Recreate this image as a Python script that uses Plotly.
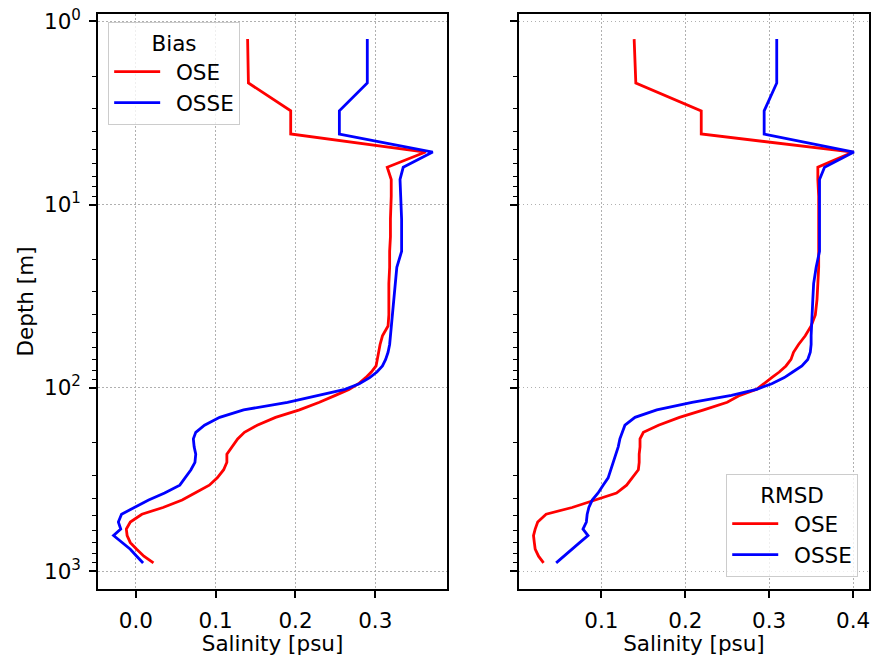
import plotly.graph_objects as go

# Model depth levels [m]
depth = [1.25, 2.17, 3.08, 4.12, 5.17, 6.26, 7.3, 9, 12, 15, 18, 22, 27, 33, 40,
         46, 52, 58, 64, 70, 76, 82, 88, 95, 102, 110, 120, 132, 145, 160, 175,
         190, 210, 230, 255, 280, 310, 340, 375, 410, 450, 490, 540, 590, 640,
         700, 760, 830, 903]

# Salinity bias profiles [psu]
bias_ose = [0.140, 0.141, 0.194, 0.194, 0.363, 0.315, 0.320, 0.320, 0.319, 0.319,
            0.318, 0.318, 0.317, 0.317, 0.317, 0.316, 0.309, 0.306, 0.304, 0.303,
            0.301, 0.295, 0.288, 0.279, 0.267, 0.250, 0.230, 0.205, 0.175, 0.152,
            0.136, 0.1275, 0.121, 0.114, 0.114, 0.110, 0.102, 0.092, 0.074, 0.058,
            0.034, 0.0075, -0.007, -0.012, -0.011, -0.007, 0.001, 0.010, 0.022]
bias_osse = [0.290, 0.290, 0.255, 0.255, 0.372, 0.335, 0.331, 0.332, 0.333, 0.333,
             0.333, 0.327, 0.325, 0.323, 0.321, 0.320, 0.319, 0.318, 0.316, 0.313,
             0.309, 0.302, 0.293, 0.280, 0.262, 0.230, 0.190, 0.135, 0.105, 0.086,
             0.075, 0.072, 0.073, 0.075, 0.074, 0.069, 0.062, 0.055, 0.036, 0.016,
             -0.002, -0.018, -0.022, -0.019, -0.028, -0.017, -0.007, 0.001, 0.009]

# Salinity RMSD profiles [psu]
rmsd_ose = [0.139, 0.141, 0.219, 0.219, 0.400, 0.358, 0.358, 0.359, 0.359, 0.359,
            0.359, 0.359, 0.358, 0.357, 0.355, 0.350, 0.343, 0.335, 0.329, 0.326,
            0.320, 0.312, 0.303, 0.293, 0.285, 0.265, 0.250, 0.222, 0.193, 0.168,
            0.150, 0.146, 0.146, 0.145, 0.145, 0.144, 0.137, 0.130, 0.118, 0.093,
            0.065, 0.034, 0.024, 0.021, 0.019, 0.020, 0.021, 0.025, 0.031]
rmsd_osse = [0.309, 0.309, 0.294, 0.294, 0.401, 0.366, 0.360, 0.360, 0.360, 0.360,
             0.360, 0.356, 0.353, 0.352, 0.351, 0.351, 0.350, 0.350, 0.349, 0.346,
             0.339, 0.328, 0.318, 0.303, 0.285, 0.255, 0.208, 0.166, 0.140, 0.128,
             0.1245, 0.122, 0.120, 0.117, 0.114, 0.111, 0.108, 0.102, 0.096, 0.089,
             0.085, 0.083, 0.082, 0.078, 0.084, 0.074, 0.065, 0.055, 0.046]

left_xticks = [0.0, 0.1, 0.2, 0.3]
right_xticks = [0.1, 0.2, 0.3, 0.4]
depth_ticks = [1, 10, 100, 1000]
depth_ticktext = ["10<sup>0</sup>", "10<sup>1</sup>", "10<sup>2</sup>", "10<sup>3</sup>"]
depth_minor = [m * 10 ** e for e in range(0, 3) for m in range(2, 10)]

RED = "#ff0000"
BLUE = "#0000ff"
FONT = "DejaVu Sans"
FS = 21.5
LW = 2.8
PAD = "\u2002"  # gap between legend handle and label

W, H = 876, 656
ML, MR, MT, MB = 98, 5, 14, 66
PW = W - ML - MR
PH = H - MT - MB

fig = go.Figure()

fig.add_trace(go.Scatter(x=bias_ose, y=depth, mode="lines", name=PAD + "OSE",
                         line=dict(color=RED, width=LW), xaxis="x", yaxis="y",
                         legend="legend"))
fig.add_trace(go.Scatter(x=bias_osse, y=depth, mode="lines", name=PAD + "OSSE",
                         line=dict(color=BLUE, width=LW), xaxis="x", yaxis="y",
                         legend="legend"))
fig.add_trace(go.Scatter(x=rmsd_ose, y=depth, mode="lines", name=PAD + "OSE",
                         line=dict(color=RED, width=LW), xaxis="x2", yaxis="y2",
                         legend="legend2"))
fig.add_trace(go.Scatter(x=rmsd_osse, y=depth, mode="lines", name=PAD + "OSSE",
                         line=dict(color=BLUE, width=LW), xaxis="x2", yaxis="y2",
                         legend="legend2"))

axis_common = dict(
    showline=True, linecolor="black", linewidth=1.6, mirror=True,
    ticks="outside", ticklen=7, tickwidth=1.5, tickcolor="black",
    showgrid=True, gridcolor="#b0b0b0", griddash="1.5px,2.5px", gridwidth=1.3,
    zeroline=False, tickfont=dict(family=FONT, size=FS, color="black"),
    ticklabelstandoff=4,
)

left_dom = [0, (448 - ML) / PW]
right_dom = [(520 - ML) / PW, 1]

x_title = dict(text="Salinity [psu]", font=dict(family=FONT, size=FS, color="black"),
               standoff=3)

legend_common = dict(
    bgcolor="rgba(255,255,255,0.8)", bordercolor="#cccccc", borderwidth=1.2,
    font=dict(family=FONT, size=FS, color="black"), itemwidth=46, tracegroupgap=0,
)

fig.update_layout(
    width=W, height=H,
    margin=dict(l=ML, r=MR, t=MT, b=MB),
    paper_bgcolor="white", plot_bgcolor="white",
    font=dict(family=FONT, size=FS, color="black"),
    xaxis=dict(domain=left_dom, range=[-0.0475, 0.39], tickvals=left_xticks,
               tickformat=".1f", title=x_title, anchor="y", **axis_common),
    xaxis2=dict(domain=right_dom, range=[0.0016, 0.419], tickvals=right_xticks,
                tickformat=".1f", title=x_title, anchor="y2", **axis_common),
    yaxis=dict(type="log", range=[3.098, -0.04], tickvals=depth_ticks,
               ticktext=depth_ticktext, anchor="x",
               title=dict(text="Depth [m]", font=dict(family=FONT, size=FS, color="black"),
                          standoff=4),
               minor=dict(tickvals=depth_minor, ticks="outside", ticklen=4,
                          tickwidth=1.2, tickcolor="black", showgrid=False),
               **axis_common),
    yaxis2=dict(type="log", range=[3.098, -0.04], tickvals=depth_ticks,
                showticklabels=False, anchor="x2", matches="y",
                minor=dict(tickvals=depth_minor, ticks="outside", ticklen=4,
                           tickwidth=1.2, tickcolor="black", showgrid=False),
                **axis_common),
    legend=dict(
        title=dict(text="Bias", side="top center",
                   font=dict(family=FONT, size=FS, color="black")),
        x=(108 - ML) / PW, y=1 - (22 - MT) / PH, xanchor="left", yanchor="top",
        **legend_common,
    ),
    legend2=dict(
        title=dict(text="RMSD", side="top center",
                   font=dict(family=FONT, size=FS, color="black")),
        x=(860 - ML) / PW, y=1 - (578 - MT) / PH, xanchor="right", yanchor="bottom",
        **legend_common,
    ),
)

fig.write_html("out.html")
